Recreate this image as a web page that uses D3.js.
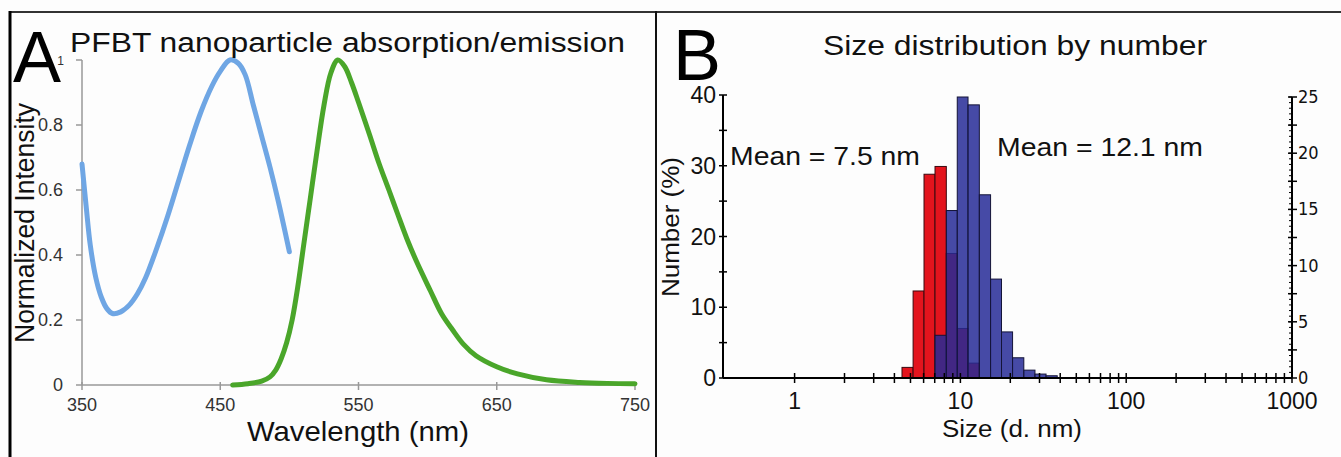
<!DOCTYPE html>
<html>
<head>
<meta charset="utf-8">
<script src="https://cdn.jsdelivr.net/npm/d3@7"></script>
<style>
body{margin:0;background:#fdfdfd;}
svg{display:block;font-family:"Liberation Sans",Arial,sans-serif;}
</style>
</head>
<body>
<div id="chart"></div>
<script>
(function(){
"use strict";

// panel A - absorption (blue) and emission (green)
var absWl  = [350,353,356,360,364,368,372,378,384,390,396,404,412,420,428,436,444,450,457,463,468,474,480,486,492,500];
var absVal = [0.68,0.55,0.43,0.33,0.27,0.235,0.22,0.225,0.245,0.28,0.33,0.42,0.52,0.63,0.74,0.84,0.92,0.965,1.0,0.99,0.955,0.86,0.765,0.67,0.565,0.41];
var emWl   = [459,470,480,486,490,494,498,502,506,510,515,520,525,530,535,540,545,550,558,565,572,578,585,592,602,610,618,626,635,650,665,686,710,730,750];
var emVal  = [0.0,0.004,0.012,0.025,0.045,0.08,0.13,0.2,0.3,0.42,0.57,0.72,0.86,0.96,1.0,0.98,0.93,0.87,0.77,0.68,0.6,0.53,0.45,0.38,0.29,0.22,0.17,0.125,0.09,0.056,0.034,0.016,0.008,0.005,0.004];
var wlTicks = [350,450,550,650,750];
var intTicks = [0,0.2,0.4,0.6,0.8,1];

// panel B - size histograms
var binSizes = [4.8,5.6,6.5,7.6,8.9,10.3,12.0,14.1,16.4,19.1,22.3,26.1,30.4,35.5];
var redSizes = [4.8,5.6,6.5,7.6,8.9,10.3,12.0];
var redVals  = [1.5,12.3,28.8,29.9,17.6,7.0,2.1];
var blueSizes = [7.6,8.9,10.3,12.0,14.1,16.4,19.1,22.3,26.1,30.4,35.5];
var blueVals  = [3.8,14.9,25.0,24.3,16.3,8.8,4.1,1.8,0.7,0.35,0.2];
var sizeLabels = [1,10,100,1000];
var leftTicks = [0,10,20,30,40];
var rightTicks = [0,5,10,15,20,25];

var W = 1341, H = 457;
var svg = d3.select('#chart').append('svg')
	.attr('width', W)
	.attr('height', H);

// frame
svg.append('line').attr('x1',10).attr('x2',W).attr('y1',12).attr('y2',12)
	.attr('stroke','#333').attr('stroke-width',2);
svg.append('line').attr('x1',10).attr('x2',10).attr('y1',11).attr('y2',H)
	.attr('stroke','#000').attr('stroke-width',3);
svg.append('line').attr('x1',656).attr('x2',656).attr('y1',11).attr('y2',H)
	.attr('stroke','#111').attr('stroke-width',2);

// ---------- panel A ----------
var xA = d3.scaleLinear().domain([350,750]).range([82,635]);
var yA = d3.scaleLinear().domain([0,1]).range([385,60]);

var gA = svg.append('g');

gA.append('line')
	.attr('x1', xA(350)).attr('x2', xA(750))
	.attr('y1', yA(0)).attr('y2', yA(0))
	.attr('stroke','#999').attr('stroke-width',1.5);
gA.append('line')
	.attr('x1', xA(350)).attr('x2', xA(350))
	.attr('y1', yA(0)).attr('y2', yA(1))
	.attr('stroke','#999').attr('stroke-width',1.5);

gA.selectAll('.xt').data(wlTicks).enter().append('line')
	.attr('x1', function(d){ return xA(d); })
	.attr('x2', function(d){ return xA(d); })
	.attr('y1', yA(0) - 3).attr('y2', yA(0) + 5)
	.attr('stroke','#999').attr('stroke-width',1.5);
gA.selectAll('.xl').data(wlTicks).enter().append('text')
	.attr('x', function(d){ return xA(d); })
	.attr('y', 411)
	.attr('text-anchor','middle')
	.attr('font-size',18)
	.attr('fill','#333')
	.text(function(d){ return d; });

gA.selectAll('.yt').data(intTicks).enter().append('line')
	.attr('x1', xA(350) - 6).attr('x2', xA(350))
	.attr('y1', function(d){ return yA(d); })
	.attr('y2', function(d){ return yA(d); })
	.attr('stroke','#999').attr('stroke-width',1.5);
gA.selectAll('.yl').data(intTicks).enter().append('text')
	.attr('x', function(d){ return d === 1 ? 64 : 63; })
	.attr('y', function(d){ return d === 1 ? yA(d) + 5 : yA(d) + 6; })
	.attr('text-anchor','end')
	.attr('font-size', function(d){ return d === 1 ? 12 : 18; })
	.attr('fill','#333')
	.text(function(d){ return d; });

var lineA = d3.line()
	.x(function(d){ return xA(d[0]); })
	.y(function(d){ return yA(d[1]); })
	.curve(d3.curveCatmullRom);

gA.append('path')
	.datum(d3.zip(absWl, absVal))
	.attr('d', lineA)
	.attr('fill','none')
	.attr('stroke','#6fa6e4')
	.attr('stroke-width',5)
	.attr('stroke-linecap','round');

gA.append('path')
	.datum(d3.zip(emWl, emVal))
	.attr('d', lineA)
	.attr('fill','none')
	.attr('stroke','#4aa62a')
	.attr('stroke-width',5)
	.attr('stroke-linecap','round');

gA.append('text').attr('x',13).attr('y',82)
	.attr('font-size',72).attr('fill','#000').text('A');
gA.append('text').attr('x',70).attr('y',52)
	.attr('font-size',27).attr('fill','#111')
	.attr('textLength',555).attr('lengthAdjust','spacingAndGlyphs')
	.text('PFBT nanoparticle absorption/emission');
gA.append('text')
	.attr('transform','translate(34,223) rotate(-90)')
	.attr('text-anchor','middle')
	.attr('font-size',27).attr('fill','#111')
	.attr('textLength',240).attr('lengthAdjust','spacingAndGlyphs')
	.text('Normalized Intensity');
gA.append('text').attr('x',358).attr('y',441)
	.attr('text-anchor','middle')
	.attr('font-size',28).attr('fill','#111')
	.attr('textLength',222).attr('lengthAdjust','spacingAndGlyphs')
	.text('Wavelength (nm)');

// ---------- panel B ----------
var xB = d3.scaleLog().domain([0.37,1000]).range([723,1292]);
var yL = d3.scaleLinear().domain([0,40]).range([378,95]);
var yR = d3.scaleLinear().domain([0,25]).range([378,97]);

var gB = svg.append('g');

// bin edges from neighbouring bin centres (geometric midpoints)
function binEdges(s){
	var i = binSizes.indexOf(s);
	var prev = i > 0 ? binSizes[i-1] : s * s / binSizes[i+1];
	var next = i < binSizes.length - 1 ? binSizes[i+1] : s * s / binSizes[i-1];
	return [Math.sqrt(prev * s), Math.sqrt(s * next)];
}

gB.selectAll('.red').data(d3.zip(redSizes, redVals)).enter().append('rect')
	.attr('x', function(d){ return xB(binEdges(d[0])[0]); })
	.attr('width', function(d){ var e = binEdges(d[0]); return xB(e[1]) - xB(e[0]); })
	.attr('y', function(d){ return yL(d[1]); })
	.attr('height', function(d){ return yL(0) - yL(d[1]); })
	.attr('fill','#e3141d')
	.attr('stroke','#3a0a10')
	.attr('stroke-width',1);

gB.selectAll('.blue').data(d3.zip(blueSizes, blueVals)).enter().append('rect')
	.attr('x', function(d){ return xB(binEdges(d[0])[0]); })
	.attr('width', function(d){ var e = binEdges(d[0]); return xB(e[1]) - xB(e[0]); })
	.attr('y', function(d){ return yR(d[1]); })
	.attr('height', function(d){ return yR(0) - yR(d[1]); })
	.attr('fill','rgba(38,42,150,0.85)')
	.attr('stroke','#141438')
	.attr('stroke-width',1);

// x axis (log)
var sizeTicks = xB.ticks().filter(function(d){ return d >= 1 && d <= 1000; });
gB.append('line')
	.attr('x1', xB.range()[0]).attr('x2', xB.range()[1])
	.attr('y1', yL(0)).attr('y2', yL(0))
	.attr('stroke','#000').attr('stroke-width',2);
gB.selectAll('.st').data(sizeTicks).enter().append('line')
	.attr('x1', function(d){ return xB(d); })
	.attr('x2', function(d){ return xB(d); })
	.attr('y1', yL(0) - 5).attr('y2', yL(0) + 5)
	.attr('stroke','#000').attr('stroke-width',1.5);
gB.selectAll('.sl').data(sizeLabels).enter().append('text')
	.attr('x', function(d){ return xB(d); })
	.attr('y', 409)
	.attr('text-anchor','middle')
	.attr('font-size',23).attr('fill','#111')
	.text(function(d){ return d; });

// left axis
gB.append('line')
	.attr('x1', 723).attr('x2', 723)
	.attr('y1', yL(0)).attr('y2', yL(40))
	.attr('stroke','#000').attr('stroke-width',2);
gB.selectAll('.lt').data(d3.range(0, 41, 5)).enter().append('line')
	.attr('x1', 719).attr('x2', 727)
	.attr('y1', function(d){ return yL(d); })
	.attr('y2', function(d){ return yL(d); })
	.attr('stroke','#000').attr('stroke-width',1.5);
gB.selectAll('.ll').data(leftTicks).enter().append('text')
	.attr('x', 716)
	.attr('y', function(d){ return yL(d) + 8; })
	.attr('text-anchor','end')
	.attr('font-size',23).attr('fill','#111')
	.text(function(d){ return d; });

// right axis
gB.append('line')
	.attr('x1', 1292).attr('x2', 1292)
	.attr('y1', yR(0)).attr('y2', yR(25))
	.attr('stroke','#000').attr('stroke-width',2);
gB.selectAll('.rm').data(d3.range(0, 25.1, 0.5)).enter().append('line')
	.attr('x1', 1289).attr('x2', 1292)
	.attr('y1', function(d){ return yR(d); })
	.attr('y2', function(d){ return yR(d); })
	.attr('stroke','#000').attr('stroke-width',1);
gB.selectAll('.rt').data(d3.range(0, 25.1, 2.5)).enter().append('line')
	.attr('x1', 1288).attr('x2', 1297)
	.attr('y1', function(d){ return yR(d); })
	.attr('y2', function(d){ return yR(d); })
	.attr('stroke','#000').attr('stroke-width',1.5);
gB.selectAll('.rl').data(rightTicks).enter().append('text')
	.attr('x', 1298)
	.attr('y', function(d){ return yR(d) + 6; })
	.attr('font-size',18)
	.attr('font-family','"Liberation Sans Narrow","DejaVu Sans Condensed",sans-serif')
	.attr('fill','#111')
	.text(function(d){ return d; });

// texts
gB.append('text').attr('x',673).attr('y',80)
	.attr('font-size',72).attr('fill','#000').text('B');
gB.append('text').attr('x',823).attr('y',55)
	.attr('font-size',27).attr('fill','#111')
	.attr('textLength',384).attr('lengthAdjust','spacingAndGlyphs')
	.text('Size distribution by number');
gB.append('text').attr('x',730).attr('y',165)
	.attr('font-size',26).attr('fill','#111')
	.attr('textLength',190).attr('lengthAdjust','spacingAndGlyphs')
	.text('Mean = 7.5 nm');
gB.append('text').attr('x',997).attr('y',156)
	.attr('font-size',26).attr('fill','#111')
	.attr('textLength',206).attr('lengthAdjust','spacingAndGlyphs')
	.text('Mean = 12.1 nm');
gB.append('text')
	.attr('transform','translate(679,227) rotate(-90)')
	.attr('text-anchor','middle')
	.attr('font-size',23).attr('fill','#111')
	.attr('textLength',140).attr('lengthAdjust','spacingAndGlyphs')
	.text('Number (%)');
gB.append('text').attr('x',1012).attr('y',437)
	.attr('text-anchor','middle')
	.attr('font-size',23).attr('fill','#111')
	.attr('textLength',140).attr('lengthAdjust','spacingAndGlyphs')
	.text('Size (d. nm)');

})();
</script>
</body>
</html>
